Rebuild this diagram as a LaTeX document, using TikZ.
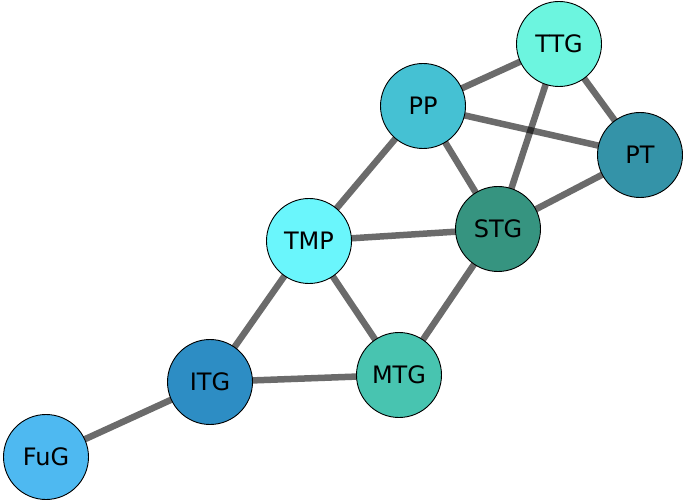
\documentclass[tikz,border=0pt]{standalone}
\usepackage{fontspec}
\setmainfont{DejaVu Sans}
\definecolor{cTTG}{RGB}{108,245,223}
\definecolor{cPP}{RGB}{69,193,211}
\definecolor{cPT}{RGB}{52,147,168}
\definecolor{cSTG}{RGB}{54,148,128}
\definecolor{cTMP}{RGB}{106,246,252}
\definecolor{cMTG}{RGB}{72,196,176}
\definecolor{cITG}{RGB}{45,141,196}
\definecolor{cFuG}{RGB}{78,185,241}
\begin{document}
\begin{tikzpicture}[x=1pt,y=-1pt,
  vtx/.style={circle,draw=black,line width=0.9pt,minimum size=85pt,inner sep=0pt,font=\fontsize{24}{24}\selectfont},
  edge/.style={draw=black,opacity=0.58,line width=6.5pt}]
\useasboundingbox (0,0) rectangle (685,502);
\coordinate (pTTG) at (559,44);
\coordinate (pPP) at (423,106);
\coordinate (pPT) at (640,155);
\coordinate (pSTG) at (498,229);
\coordinate (pTMP) at (309,241);
\coordinate (pMTG) at (399,375);
\coordinate (pITG) at (210,382);
\coordinate (pFuG) at (46,457);
\foreach \a/\b in {TTG/PP,TTG/PT,TTG/STG,PP/PT,PP/STG,PP/TMP,PT/STG,STG/TMP,STG/MTG,TMP/MTG,TMP/ITG,ITG/MTG,ITG/FuG}
  \draw[edge] (p\a) -- (p\b);
\node[vtx,fill=cTTG] (TTG) at (pTTG) {TTG};
\node[vtx,fill=cPP] (PP) at (pPP) {PP};
\node[vtx,fill=cPT] (PT) at (pPT) {PT};
\node[vtx,fill=cSTG] (STG) at (pSTG) {STG};
\node[vtx,fill=cTMP] (TMP) at (pTMP) {TMP};
\node[vtx,fill=cMTG] (MTG) at (pMTG) {MTG};
\node[vtx,fill=cITG] (ITG) at (pITG) {ITG};
\node[vtx,fill=cFuG] (FuG) at (pFuG) {FuG};
\end{tikzpicture}
\end{document}
